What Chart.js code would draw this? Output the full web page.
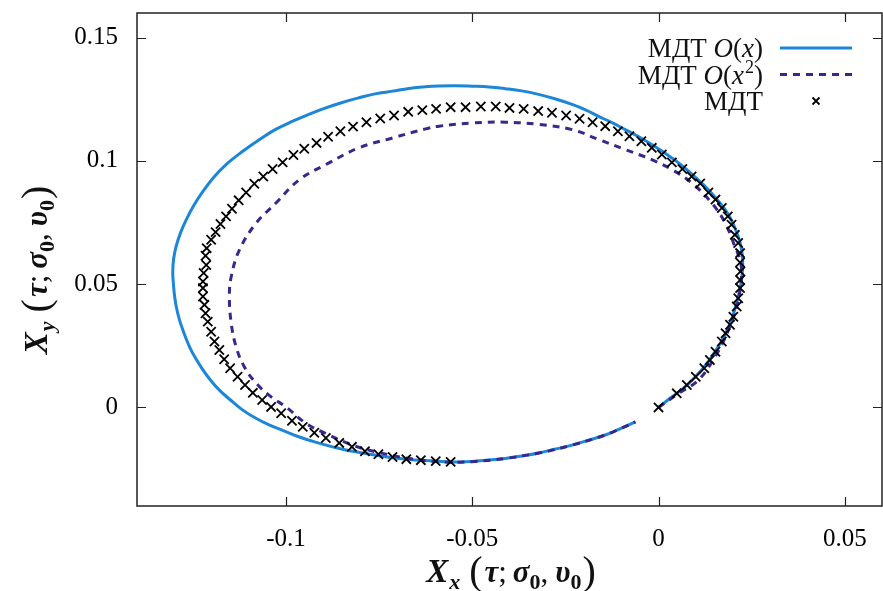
<!DOCTYPE html>
<html>
<head>
<meta charset="utf-8">
<script src="https://cdn.jsdelivr.net/npm/chart.js@4.4.0/dist/chart.umd.min.js"></script>
<style>
  html, body { margin: 0; padding: 0; background: #fff; overflow: hidden; }
  canvas { display: block; }
</style>
</head>
<body>
<canvas id="chart" width="883" height="591"></canvas>
<script>
// axis ticks
const xTicks = [-0.1, -0.05, 0, 0.05];
const xTickLabels = ['-0.1', '-0.05', '0', '0.05'];
const yTicks = [0, 0.05, 0.1, 0.15];
const yTickLabels = ['0', '0.05', '0.1', '0.15'];

const seriesLabels = ['МДТ O(x)', 'МДТ O(x²)', 'МДТ'];

// МДТ O(x) - solid line
const lin1X = [0, 0.0032, 0.0067, 0.0099, 0.0129, 0.0153, 0.0174, 0.0193, 0.0206, 0.0217, 0.0224, 0.0226, 0.0222, 0.0214, 0.0198,
  0.0179, 0.0153, 0.0125, 0.0091, 0.0054, 0.0019, -0.0018, -0.0054, -0.0089, -0.0126, -0.0161, -0.0196, -0.0232, -0.0276, -0.0322,
  -0.0367, -0.0411, -0.0455, -0.0500, -0.0546, -0.0589, -0.0625, -0.0670, -0.0714, -0.0761, -0.0804, -0.0849, -0.0893, -0.0937, -0.0982,
  -0.1029, -0.1071, -0.1117, -0.1161, -0.1195, -0.1223, -0.1248, -0.1268, -0.1283, -0.1295, -0.1302, -0.1304, -0.1302, -0.1299, -0.1294,
  -0.1286, -0.1274, -0.1259, -0.1243, -0.1223, -0.1203, -0.1179, -0.1149, -0.1116, -0.1082, -0.1044, -0.1004, -0.0964, -0.0921, -0.0875,
  -0.0830, -0.0786, -0.0742, -0.0696, -0.0654, -0.0607, -0.0573, -0.0536, -0.0500, -0.0455, -0.0411, -0.0367, -0.0321, -0.0279, -0.0232,
  -0.0188, -0.0143, -0.0102, -0.0062];
const lin1Y = [0, 0.0038, 0.0078, 0.0124, 0.0176, 0.0229, 0.0282, 0.0343, 0.0404, 0.0469, 0.0530, 0.0591, 0.0648, 0.0693, 0.0753,
  0.0802, 0.0851, 0.0897, 0.0944, 0.0992, 0.1030, 0.1066, 0.1099, 0.1127, 0.1156, 0.1181, 0.1207, 0.1229, 0.1251, 0.1270,
  0.1284, 0.1293, 0.1300, 0.1303, 0.1305, 0.1304, 0.1301, 0.1294, 0.1283, 0.1272, 0.1256, 0.1237, 0.1215, 0.1190, 0.1161,
  0.1127, 0.1087, 0.1038, 0.0985, 0.0932, 0.0876, 0.0818, 0.0761, 0.0709, 0.0653, 0.0599, 0.0545, 0.0497, 0.0450, 0.0404,
  0.0355, 0.0302, 0.0246, 0.0200, 0.0152, 0.0111, 0.0070, 0.0030, -0.0011, -0.0043, -0.0072, -0.0096, -0.0120, -0.0141, -0.0160,
  -0.0176, -0.0187, -0.0198, -0.0207, -0.0213, -0.0217, -0.0220, -0.0221, -0.0219, -0.0213, -0.0207, -0.0197, -0.0185, -0.0170, -0.0153,
  -0.0133, -0.0112, -0.0086, -0.0059];

// МДТ O(x^2) - dashed line
const lin2X = [0, 0.0054, 0.0107, 0.0152, 0.0188, 0.0210, 0.0219, 0.0223, 0.0217, 0.0205, 0.0179, 0.0143, 0.0089, 0.0036, -0.0018,
  -0.0089, -0.0161, -0.0232, -0.0321, -0.0411, -0.0500, -0.0589, -0.0625, -0.0714, -0.0804, -0.0893, -0.0964, -0.1027, -0.1080, -0.1125,
  -0.1147, -0.1152, -0.1147, -0.1134, -0.1112, -0.1080, -0.1040, -0.1000, -0.0946, -0.0893, -0.0822, -0.0759, -0.0670, -0.0580, -0.0501,
  -0.0411, -0.0321, -0.0232, -0.0143, -0.0102, -0.0062];
const lin2Y = [0, 0.0057, 0.0111, 0.0206, 0.0314, 0.0409, 0.0477, 0.0558, 0.0607, 0.0653, 0.0748, 0.0829, 0.0911, 0.0965, 0.1005,
  0.1046, 0.1087, 0.1127, 0.1148, 0.1157, 0.1154, 0.1141, 0.1130, 0.1093, 0.1053, 0.0985, 0.0924, 0.0829, 0.0748, 0.0639,
  0.0531, 0.0450, 0.0341, 0.0246, 0.0165, 0.0098, 0.0043, 0.0002, -0.0065, -0.0106, -0.0153, -0.0180, -0.0207, -0.0221, -0.0220,
  -0.0207, -0.0185, -0.0153, -0.0112, -0.0086, -0.0059];

// МДТ - crosses
const crossX = [0, 0.0049, 0.0076, 0.0100, 0.0123, 0.0138, 0.0153, 0.0170, 0.0180, 0.0192, 0.0201, 0.0210, 0.0214, 0.0219, 0.0219,
  0.0220, 0.0219, 0.0219, 0.0214, 0.0205, 0.0196, 0.0186, 0.0170, 0.0153, 0.0134, 0.0112, 0.0089, 0.0064, 0.0036, 0.0009,
  -0.0018, -0.0046, -0.0078, -0.0109, -0.0143, -0.0177, -0.0212, -0.0248, -0.0286, -0.0323, -0.0362, -0.0400, -0.0437, -0.0477, -0.0518,
  -0.0558, -0.0597, -0.0634, -0.0672, -0.0710, -0.0747, -0.0784, -0.0820, -0.0854, -0.0887, -0.0918, -0.0951, -0.0980, -0.1009, -0.1036,
  -0.1061, -0.1085, -0.1107, -0.1127, -0.1145, -0.1161, -0.1176, -0.1189, -0.1201, -0.1213, -0.1216, -0.1214, -0.1221, -0.1223, -0.1223,
  -0.1223, -0.1219, -0.1216, -0.1210, -0.1201, -0.1192, -0.1179, -0.1166, -0.1150, -0.1130, -0.1110, -0.1089, -0.1064, -0.1040, -0.1013,
  -0.0984, -0.0955, -0.0924, -0.0893, -0.0857, -0.0823, -0.0788, -0.0752, -0.0714, -0.0677, -0.0638, -0.0598, -0.0558];
const crossY = [0, 0.0057, 0.0091, 0.0124, 0.0159, 0.0192, 0.0226, 0.0267, 0.0301, 0.0335, 0.0368, 0.0409, 0.0443, 0.0484, 0.0517,
  0.0551, 0.0588, 0.0626, 0.0667, 0.0700, 0.0741, 0.0775, 0.0809, 0.0843, 0.0872, 0.0908, 0.0937, 0.0967, 0.0994, 0.1026,
  0.1053, 0.1080, 0.1100, 0.1120, 0.1141, 0.1157, 0.1171, 0.1184, 0.1195, 0.1202, 0.1211, 0.1215, 0.1221, 0.1221, 0.1218,
  0.1218, 0.1211, 0.1206, 0.1199, 0.1184, 0.1172, 0.1157, 0.1139, 0.1120, 0.1098, 0.1073, 0.1049, 0.1024, 0.0994, 0.0967,
  0.0937, 0.0907, 0.0872, 0.0840, 0.0806, 0.0775, 0.0744, 0.0711, 0.0680, 0.0646, 0.0615, 0.0578, 0.0545, 0.0511, 0.0484,
  0.0450, 0.0416, 0.0382, 0.0348, 0.0307, 0.0267, 0.0233, 0.0195, 0.0159, 0.0124, 0.0091, 0.0059, 0.0030, 0.0002, -0.0024,
  -0.0054, -0.0079, -0.0103, -0.0124, -0.0144, -0.0160, -0.0178, -0.0190, -0.0201, -0.0210, -0.0214, -0.0218, -0.0221];

const blue = '#1c86d8';
const purple = '#38288c';
const serif = '"Liberation Serif", "DejaVu Serif", serif';

const toPoints = (xs, ys) => xs.map((v, i) => ({ x: v, y: ys[i] }));

// draws a row of text pieces (different fonts / sub- and superscripts)
function measureRuns(ctx, runs) {
  let w = 0;
  runs.forEach(r => {
    ctx.font = r.font;
    r.w = ctx.measureText(r.t).width;
    w += r.w + (r.sp || 0);
  });
  return w;
}
function drawRuns(ctx, runs, startX, baseline) {
  let xx = startX;
  runs.forEach(r => {
    ctx.font = r.font;
    ctx.fillText(r.t, xx, baseline + (r.dy || 0));
    xx += r.w + (r.sp || 0);
  });
}

function titleRuns(sub) {
  const bi = 'italic bold 33px ' + serif;
  const gi = 'italic bold 31px ' + serif;
  const sb = 'italic bold 22px ' + serif;
  const s0 = 'bold 22px ' + serif;
  const rg = '31px ' + serif;
  const par = '40px ' + serif;
  return [
    { t: 'X', font: bi, sp: 1 },
    { t: sub, font: sb, dy: 7, sp: 9 },
    { t: '(', font: par, dy: 2, sp: 2 },
    { t: 'τ', font: gi },
    { t: ';', font: rg, sp: 6 },
    { t: 'σ', font: gi },
    { t: '0', font: s0, dy: 7 },
    { t: ',', font: rg, sp: 7 },
    { t: 'υ', font: gi },
    { t: '0', font: s0, dy: 7, sp: 1 },
    { t: ')', font: par, dy: 2 }
  ];
}

const decor = {
  id: 'decor',
  afterDraw(chart) {
    const { ctx, chartArea: a, scales: { x, y } } = chart;
    ctx.save();
    // frame and inward ticks on all four sides
    ctx.strokeStyle = '#222';
    ctx.lineWidth = 1.5;
    ctx.strokeRect(a.left, a.top, a.right - a.left, a.bottom - a.top);
    ctx.lineWidth = 1.2;
    ctx.beginPath();
    xTicks.forEach(v => {
      const px = Math.round(x.getPixelForValue(v)) + 0.5;
      ctx.moveTo(px, a.bottom); ctx.lineTo(px, a.bottom - 9);
      ctx.moveTo(px, a.top); ctx.lineTo(px, a.top + 9);
    });
    yTicks.forEach(v => {
      const py = Math.round(y.getPixelForValue(v)) + 0.5;
      ctx.moveTo(a.left, py); ctx.lineTo(a.left + 9, py);
      ctx.moveTo(a.right, py); ctx.lineTo(a.right - 9, py);
    });
    ctx.stroke();

    // axis titles
    ctx.fillStyle = '#111';
    ctx.textBaseline = 'alphabetic';
    const xr = titleRuns('x');
    const xw = measureRuns(ctx, xr);
    drawRuns(ctx, xr, 511 - xw / 2, 582);

    const yr = titleRuns('y');
    const yw = measureRuns(ctx, yr);
    ctx.save();
    ctx.translate(47, 270);
    ctx.rotate(-Math.PI / 2);
    drawRuns(ctx, yr, -yw / 2, 0);
    ctx.restore();

    // legend, sample to the right of the text
    const nf = '27px ' + serif;
    const itf = 'italic 27px ' + serif;
    const supf = '18px ' + serif;
    const rows = [
      [{ t: 'МДТ ', font: nf }, { t: 'O', font: itf }, { t: '(', font: nf }, { t: 'x', font: itf }, { t: ')', font: nf }],
      [{ t: 'МДТ ', font: nf }, { t: 'O', font: itf }, { t: '(', font: nf }, { t: 'x', font: itf, sp: 1 },
        { t: '2', font: supf, dy: -11 }, { t: ')', font: nf }],
      [{ t: 'МДТ', font: nf }]
    ];
    const rowY = [48, 74.5, 101];
    rows.forEach((r, i) => {
      const w = measureRuns(ctx, r);
      drawRuns(ctx, r, 763 - w, rowY[i] + 9);
    });
    ctx.lineWidth = 3;
    ctx.strokeStyle = blue;
    ctx.beginPath(); ctx.moveTo(780, rowY[0]); ctx.lineTo(852, rowY[0]); ctx.stroke();
    ctx.strokeStyle = purple;
    ctx.setLineDash([7, 6]);
    ctx.beginPath(); ctx.moveTo(780, rowY[1]); ctx.lineTo(852, rowY[1]); ctx.stroke();
    ctx.setLineDash([]);
    ctx.strokeStyle = '#000';
    ctx.lineWidth = 1.8;
    ctx.beginPath();
    ctx.moveTo(812.5, rowY[2] - 3.5); ctx.lineTo(819.5, rowY[2] + 3.5);
    ctx.moveTo(812.5, rowY[2] + 3.5); ctx.lineTo(819.5, rowY[2] - 3.5);
    ctx.stroke();
    ctx.restore();
  }
};

// keep the plot box fixed: no extra padding from tick labels
const noPad = s => { s.paddingTop = 0; s.paddingBottom = 0; s.paddingLeft = 0; s.paddingRight = 0; };

new Chart(document.getElementById('chart'), {
  type: 'scatter',
  data: {
    datasets: [
      {
        label: seriesLabels[2],
        data: toPoints(crossX, crossY),
        showLine: false,
        pointStyle: 'crossRot',
        pointRadius: 6.5,
        pointBorderWidth: 1.8,
        borderColor: '#000',
        backgroundColor: '#000',
        order: 0
      },
      {
        label: seriesLabels[1],
        data: toPoints(lin2X, lin2Y),
        showLine: true,
        borderColor: purple,
        borderWidth: 3,
        borderDash: [7, 6],
        pointRadius: 0,
        tension: 0.4,
        fill: false,
        order: 1
      },
      {
        label: seriesLabels[0],
        data: toPoints(lin1X, lin1Y),
        showLine: true,
        borderColor: blue,
        borderWidth: 3,
        pointRadius: 0,
        tension: 0.4,
        fill: false,
        order: 2
      }
    ]
  },
  options: {
    responsive: false,
    animation: false,
    devicePixelRatio: 1,
    layout: { autoPadding: false, padding: { top: 13, right: 1, left: 0, bottom: 0 } },
    plugins: {
      legend: { display: false },
      tooltip: { enabled: false }
    },
    scales: {
      x: {
        type: 'linear',
        min: -0.14,
        max: 0.06,
        grid: { display: false, drawTicks: false },
        border: { display: false },
        afterBuildTicks: s => { s.ticks = xTicks.map(v => ({ value: v })); },
        afterFit: s => { s.height = 85; noPad(s); },
        ticks: {
          padding: 18,
          color: '#000',
          font: { family: serif, size: 25 },
          maxRotation: 0,
          callback: v => xTickLabels[xTicks.indexOf(v)]
        }
      },
      y: {
        type: 'linear',
        min: -0.04,
        max: 0.16,
        grid: { display: false, drawTicks: false },
        border: { display: false },
        afterBuildTicks: s => { s.ticks = yTicks.map(v => ({ value: v })); },
        afterFit: s => { s.width = 137; noPad(s); },
        ticks: {
          padding: 19,
          color: '#000',
          font: { family: serif, size: 25 },
          callback: v => yTickLabels[yTicks.indexOf(v)]
        }
      }
    }
  },
  plugins: [decor]
});
</script>
</body>
</html>
